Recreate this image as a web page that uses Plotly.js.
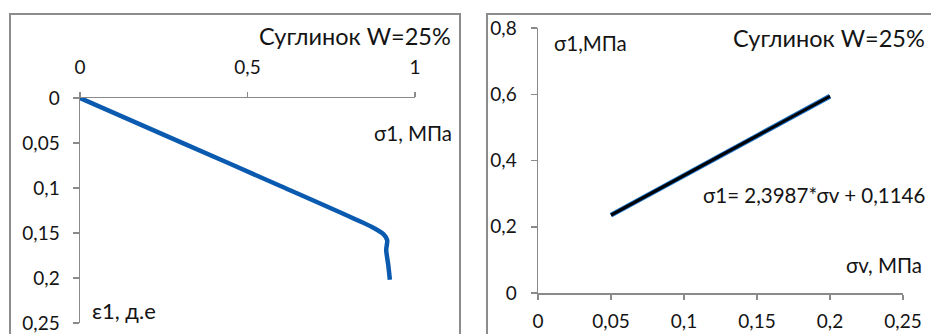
<!DOCTYPE html>
<html>
<head>
<meta charset="utf-8">
<script src="https://cdn.plot.ly/plotly-3.0.1.min.js"></script>
<style>html,body{margin:0;padding:0;background:#fff;}#chart{width:931px;height:334px;}</style>
</head>
<body>
<div id="chart"></div>
<script>
// Left panel: sigma1 (MPa) vs epsilon1 (d.e.)
const sigma1Left = [0, 0.3, 0.6, 0.87, 0.905, 0.917, 0.914, 0.92, 0.925];
const eps1Left   = [0, 0.049, 0.098, 0.143, 0.151, 0.158, 0.169, 0.185, 0.202];
const leftXTicks = [0, 0.5, 1];
const leftXTickText = ['0', '0,5', '1'];
const leftYTicks = [0, 0.05, 0.1, 0.15, 0.2, 0.25];
const leftYTickText = ['0', '0,05', '0,1', '0,15', '0,2', '0,25'];

// Right panel: sigma_v vs sigma1
const sigmaV = [0.05, 0.1, 0.15, 0.2];
const sigma1Right = [0.235, 0.354, 0.474, 0.594];
const rightXTicks = [0, 0.05, 0.1, 0.15, 0.2, 0.25];
const rightXTickText = ['0', '0,05', '0,1', '0,15', '0,2', '0,25'];
const rightYTicks = [0, 0.2, 0.4, 0.6, 0.8];
const rightYTickText = ['0', '0,2', '0,4', '0,6', '0,8'];

const W = 931, H = 334;
const px = x => x / W;
const py = y => 1 - y / H;

const FONT = 'Lato, "Open Sans", sans-serif';
const TXT = '#141414';
const AX = '#8a8a8a';
const LBL = 20.5;

const traces = [
  {x: sigma1Left, y: eps1Left, xaxis: 'x', yaxis: 'y', mode: 'lines',
   line: {color: '#0a5ab0', width: 4.5, shape: 'spline', smoothing: 0.6}, hoverinfo: 'skip'},
  {x: sigmaV, y: sigma1Right, xaxis: 'x2', yaxis: 'y2', mode: 'lines',
   line: {color: '#1a6fc4', width: 5}, hoverinfo: 'skip'},
  {x: sigmaV, y: sigma1Right, xaxis: 'x2', yaxis: 'y2', mode: 'lines',
   line: {color: '#000000', width: 3}, hoverinfo: 'skip'}
];

const axisCommon = {
  showgrid: false, zeroline: false, showline: true, linecolor: AX, linewidth: 1.5,
  ticks: 'outside', ticklen: 6, tickcolor: AX, tickwidth: 1.5,
  tickfont: {family: FONT, size: 19, color: TXT}, fixedrange: true
};

const layout = {
  width: W, height: H, margin: {l: 0, r: 0, t: 0, b: 0},
  paper_bgcolor: '#fff', plot_bgcolor: 'rgba(0,0,0,0)', showlegend: false,
  xaxis: Object.assign({}, axisCommon, {domain: [px(80), px(415)], range: [0, 1], side: 'top', anchor: 'y',
    tickmode: 'array', tickvals: leftXTicks, ticktext: leftXTickText, ticklen: 5, ticklabelstandoff: 10}),
  yaxis: Object.assign({}, axisCommon, {domain: [py(323), py(98)], range: [0.25, 0], anchor: 'x',
    tickmode: 'array', tickvals: leftYTicks, ticktext: leftYTickText, ticklabelstandoff: 9}),
  xaxis2: Object.assign({}, axisCommon, {domain: [px(538), px(903)], range: [0, 0.25], anchor: 'y2',
    tickmode: 'array', tickvals: rightXTicks, ticktext: rightXTickText, ticklen: 5, ticklabelstandoff: 6}),
  yaxis2: Object.assign({}, axisCommon, {domain: [py(293), py(28)], range: [0, 0.8], anchor: 'x2',
    tickmode: 'array', tickvals: rightYTicks, ticktext: rightYTickText, ticklabelstandoff: 10}),
  shapes: [
    {type: 'rect', xref: 'paper', yref: 'paper', x0: px(10), x1: px(460), y0: -0.2, y1: py(14),
     line: {color: '#8c8c8c', width: 2}},
    {type: 'rect', xref: 'paper', yref: 'paper', x0: px(487), x1: 1.2, y0: -0.2, y1: py(14),
     line: {color: '#8c8c8c', width: 2}}
  ],
  annotations: [
    {text: 'Суглинок W=25%', xref: 'paper', yref: 'paper', x: px(453), y: py(36), xanchor: 'right', yanchor: 'middle',
     showarrow: false, font: {family: FONT, size: 23.5, color: TXT}},
    {text: 'σ1, МПа', xref: 'paper', yref: 'paper', x: px(454), y: py(133), xanchor: 'right', yanchor: 'middle',
     showarrow: false, font: {family: FONT, size: LBL, color: TXT}},
    {text: 'ε1, д.е', xref: 'paper', yref: 'paper', x: px(90), y: py(310), xanchor: 'left', yanchor: 'middle',
     showarrow: false, font: {family: FONT, size: 22, color: TXT}},
    {text: 'Суглинок W=25%', xref: 'paper', yref: 'paper', x: px(927), y: py(38), xanchor: 'right', yanchor: 'middle',
     showarrow: false, font: {family: FONT, size: 23.5, color: TXT}},
    {text: 'σ1,МПа', xref: 'paper', yref: 'paper', x: px(552), y: py(43), xanchor: 'left', yanchor: 'middle',
     showarrow: false, font: {family: FONT, size: LBL, color: TXT}},
    {text: 'σ1= 2,3987*σv + 0,1146', xref: 'paper', yref: 'paper', x: px(927), y: py(195), xanchor: 'right', yanchor: 'middle',
     showarrow: false, font: {family: FONT, size: LBL, color: TXT}},
    {text: 'σv, МПа', xref: 'paper', yref: 'paper', x: px(924), y: py(265), xanchor: 'right', yanchor: 'middle',
     showarrow: false, font: {family: FONT, size: LBL, color: TXT}}
  ]
};

Plotly.newPlot('chart', traces, layout, {staticPlot: true, displayModeBar: false});
</script>
</body>
</html>
